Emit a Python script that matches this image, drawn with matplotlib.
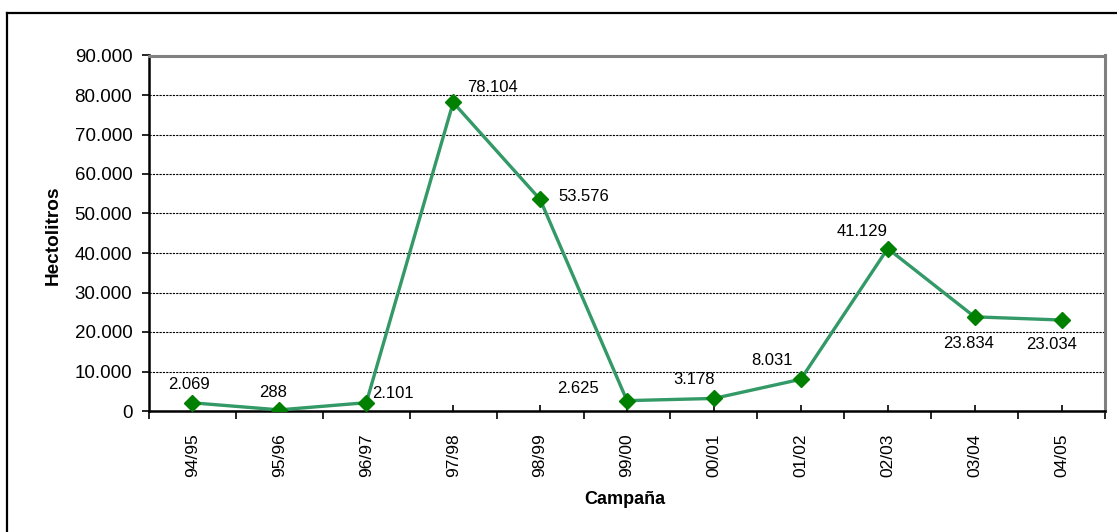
import matplotlib
matplotlib.use("Agg")
import matplotlib.pyplot as plt
from matplotlib.ticker import FuncFormatter, FixedLocator
from matplotlib.lines import Line2D

plt.rcParams['font.family'] = ['Liberation Sans', 'DejaVu Sans']

campaigns = ["94/95", "95/96", "96/97", "97/98", "98/99", "99/00",
             "00/01", "01/02", "02/03", "03/04", "04/05"]
hectoliters = [2069, 288, 2101, 78104, 53576, 2625, 3178, 8031, 41129, 23834, 23034]
yticks = [0, 10000, 20000, 30000, 40000, 50000, 60000, 70000, 80000, 90000]

# label placement (pixel offsets from each point)
label_offsets = [(-3, 18), (-6, 17), (27, 9), (39, 15), (44, 3), (-49, 12),
                 (-20, 19), (-29, 19), (-26, 17), (-6, -27), (-10, -24)]


def thousands(v):
    return f"{int(round(v)):,}".replace(",", ".")


W, H = 1117, 532
fig = plt.figure(figsize=(W / 100, H / 100), dpi=100)
fig.patch.set_facecolor("white")

# outer chart frame (top and left edges visible)
fig.add_artist(Line2D([6.5 / W, 6.5 / W], [0, 1 - 12.5 / H], color="black", lw=1.6,
                      transform=fig.transFigure))
fig.add_artist(Line2D([6.5 / W, 1], [1 - 12.5 / H, 1 - 12.5 / H], color="black", lw=1.6,
                      transform=fig.transFigure))

ax = fig.add_axes([149 / W, 1 - 411 / H, (1105 - 149) / W, (411 - 55.5) / H])

x = list(range(len(campaigns)))
ax.plot(x, hectoliters, color="#339966", lw=2.4, zorder=3,
        marker="D", markersize=8, markerfacecolor="#008000",
        markeredgecolor="#008000")

ax.set_xlim(-0.5, len(campaigns) - 0.5)
ax.set_ylim(0, 90000)

ax.set_yticks(yticks)
ax.yaxis.set_major_formatter(FuncFormatter(lambda v, p: thousands(v)))
ax.tick_params(axis="y", direction="out", length=5, width=1.2, pad=7, labelsize=13.5)

ax.set_xticks(x)
ax.set_xticklabels(campaigns, rotation=90)
ax.xaxis.set_minor_locator(FixedLocator([i - 0.5 for i in range(len(campaigns) + 1)]))
ax.tick_params(axis="x", which="major", direction="in", length=4, width=1.2,
               pad=16, labelsize=12.5)
ax.tick_params(axis="x", which="minor", direction="out", length=6, width=1.2)

ax.grid(axis="y", color="black", linestyle=(0, (2, 1)), linewidth=0.8)
ax.set_axisbelow(True)

for side in ("left", "bottom"):
    ax.spines[side].set_color("black")
    ax.spines[side].set_linewidth(1.8)
for side in ("top", "right"):
    ax.spines[side].set_color("#808080")
    ax.spines[side].set_linewidth(2.2)

for xi, v, (dx, dy) in zip(x, hectoliters, label_offsets):
    ax.annotate(thousands(v), (xi, v), xytext=(dx, dy), textcoords="offset pixels",
                ha="center", va="center", fontsize=12, color="black", zorder=4)

ax.set_ylabel("Hectolitros", fontsize=13.7, fontweight="bold")
ax.yaxis.set_label_coords(-0.091, 0.495)
ax.set_xlabel("Campaña", fontsize=13, fontweight="bold")
ax.xaxis.set_label_coords(0.498, -0.225)

fig.savefig("out.png", dpi=100)
